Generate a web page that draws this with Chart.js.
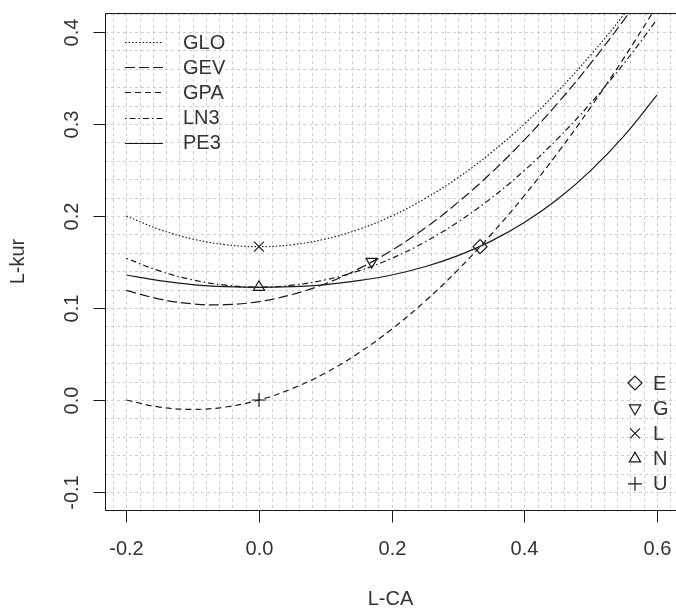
<!DOCTYPE html>
<html><head><meta charset="utf-8">
<script src="https://cdn.jsdelivr.net/npm/chart.js@4/dist/chart.umd.min.js"></script>
<style>html,body{margin:0;padding:0;background:#fff;overflow:hidden}canvas{display:block}</style>
</head><body>
<canvas id="c" width="676" height="609"></canvas>
<script>
// L-skewness (L-CA) sample positions
const lskew = [-0.2,-0.15,-0.1,-0.05,0,0.05,0.1,0.15,0.2,0.25,0.3,0.35,0.4,0.45,0.5,0.55,0.6];
// L-kurtosis curves
const gloKur = [0.2000,0.1854,0.1750,0.1688,0.1667,0.1688,0.1750,0.1854,0.2000,0.2188,0.2417,0.2688,0.3000,0.3354,0.3750,0.4188,0.4667];
const gevKur = [0.1191,0.1097,0.1045,0.1036,0.1070,0.1147,0.1264,0.1425,0.1626,0.1867,0.2148,0.2468,0.2827,0.3224,0.3659,0.4130,0.4638];
const gpaKur = [0.0000,-0.0077,-0.0102,-0.0076,0.0000,0.0124,0.0294,0.0510,0.0769,0.1071,0.1415,0.1799,0.2222,0.2683,0.3182,0.3716,0.4286];
const ln3Kur = [0.1540,0.1403,0.1306,0.1248,0.1228,0.1248,0.1306,0.1403,0.1540,0.1717,0.1935,0.2194,0.2495,0.2839,0.3226,0.3657,0.4134];
const pe3Kur = [0.1359,0.1297,0.1255,0.1232,0.1224,0.1232,0.1255,0.1297,0.1359,0.1448,0.1569,0.1727,0.1929,0.2182,0.2494,0.2869,0.3314];
const curveNames = ['GLO','GEV','GPA','LN3','PE3'];
// special distribution points
const pointNames = ['E','G','L','N','U'];
const pointSkew = [0.3333,0.1699,0.0,0.0,0.0];
const pointKur  = [0.1667,0.1504,0.1667,0.1226,0.0];
// tick labels
const xTickLabels = ['-0.2','0.0','0.2','0.4','0.6'];
const yTickLabels = ['-0.1','0.0','0.1','0.2','0.3','0.4'];

const curveData = [gloKur, gevKur, gpaKur, ln3Kur, pe3Kur];
const curveDash = [[1.5,2],[10,4],[6,4],[1.5,3,6,3],[]];
const ptStyle = ['rectRot','triangle','crossRot','triangle','cross'];
const ptRot = [0,180,0,0,0];
const ptRad = [7,6.5,7,6.5,7];

const FONT = '20px "Liberation Sans", Arial, sans-serif';
const INK = '#1a1a1a';
const TXT = '#333';

const datasets = curveData.map((arr,i)=>({
  type:'line', label:curveNames[i],
  data: lskew.map((x,j)=>({x:x, y:arr[j]})),
  borderColor:INK, borderWidth:1.2, borderDash:curveDash[i],
  pointRadius:0, tension:0.4, fill:false
}));
datasets.push({
  type:'scatter', label:'points',
  data: pointSkew.map((x,i)=>({x:x, y:pointKur[i]})),
  pointStyle: ptStyle, pointRotation: ptRot, pointRadius: ptRad,
  pointBorderColor: INK, pointBackgroundColor:'rgba(0,0,0,0)', pointBorderWidth:1.2,
  showLine:false
});

const decor = {
  id:'decor',
  beforeDatasetsDraw(chart){
    const {ctx, chartArea:a, scales:{x,y}} = chart;
    ctx.save();
    ctx.strokeStyle = '#cfcfcf'; ctx.lineWidth = 1; ctx.setLineDash([3,3]);
    for (let k=-11;k<=31;k++){
      const px = Math.round(x.getPixelForValue(k*0.02))+0.5;
      if (px<=a.left+1 || px>=a.right) continue;
      ctx.beginPath(); ctx.moveTo(px,a.top); ctx.lineTo(px,a.bottom); ctx.stroke();
    }
    for (let k=-6;k<=21;k++){
      const py = Math.round(y.getPixelForValue(k*0.02))+0.5;
      if (py<=a.top+1 || py>=a.bottom-1) continue;
      ctx.beginPath(); ctx.moveTo(a.left,py); ctx.lineTo(a.right,py); ctx.stroke();
    }
    ctx.restore();
  },
  afterDatasetsDraw(chart){
    const {ctx, chartArea:a, scales:{x,y}} = chart;
    ctx.save();
    ctx.setLineDash([]);
    ctx.strokeStyle = INK; ctx.lineWidth = 1;
    const L = Math.round(a.left)+0.5, B = Math.round(a.bottom)+0.5, T = Math.round(a.top)+0.5;
    ctx.beginPath();
    ctx.moveTo(a.right+2,T); ctx.lineTo(L,T); ctx.lineTo(L,B); ctx.lineTo(a.right+2,B);
    ctx.stroke();
    ctx.font = FONT; ctx.fillStyle = TXT;
    // x ticks
    ctx.textAlign='center'; ctx.textBaseline='middle';
    xTickLabels.forEach(t=>{
      const px = Math.round(x.getPixelForValue(parseFloat(t)))+0.5;
      ctx.beginPath(); ctx.moveTo(px,B); ctx.lineTo(px,B+12); ctx.stroke();
      ctx.fillText(t, px, 549);
    });
    // y ticks
    yTickLabels.forEach(t=>{
      const py = Math.round(y.getPixelForValue(parseFloat(t)))+0.5;
      ctx.beginPath(); ctx.moveTo(L,py); ctx.lineTo(L-12,py); ctx.stroke();
      ctx.save(); ctx.translate(72, py); ctx.rotate(-Math.PI/2);
      ctx.fillText(t, 0, 0); ctx.restore();
    });
    // axis titles
    ctx.fillText('L-CA', (a.left+a.right)/2, 599);
    ctx.save(); ctx.translate(18,(a.top+a.bottom)/2); ctx.rotate(-Math.PI/2);
    ctx.fillText('L-kur',0,0); ctx.restore();
    // curve legend (top-left)
    ctx.textAlign='left';
    curveNames.forEach((n,i)=>{
      const yy = 42 + i*25.2;
      ctx.save(); ctx.setLineDash(curveDash[i]); ctx.lineWidth=1.2;
      ctx.beginPath(); ctx.moveTo(125, Math.round(yy)+0.5); ctx.lineTo(163, Math.round(yy)+0.5); ctx.stroke();
      ctx.restore();
      ctx.fillText(n, 183, yy+1);
    });
    // point legend (bottom-right)
    pointNames.forEach((n,i)=>{
      const yy = 383 + i*25.2;
      ctx.save(); ctx.fillStyle='rgba(0,0,0,0)'; ctx.lineWidth=1.2;
      Chart.helpers.drawPoint(ctx,{pointStyle:ptStyle[i], radius:ptRad[i], rotation:ptRot[i], borderWidth:1.2}, 635, yy);
      ctx.restore();
      ctx.fillText(n, 653, yy+1);
    });
    ctx.restore();
  }
};

new Chart(document.getElementById('c'), {
  type:'line',
  data:{datasets},
  options:{
    responsive:false, animation:false, devicePixelRatio:1,
    layout:{autoPadding:false, padding:{left:105, top:13, right:0, bottom:99}},
    plugins:{legend:{display:false}, tooltip:{enabled:false}},
    scales:{
      x:{type:'linear', display:false, min:-0.2322, max:0.6287},
      y:{type:'linear', display:false, min:-0.1196, max:0.4207}
    }
  },
  plugins:[decor]
});
</script>
</body></html>
